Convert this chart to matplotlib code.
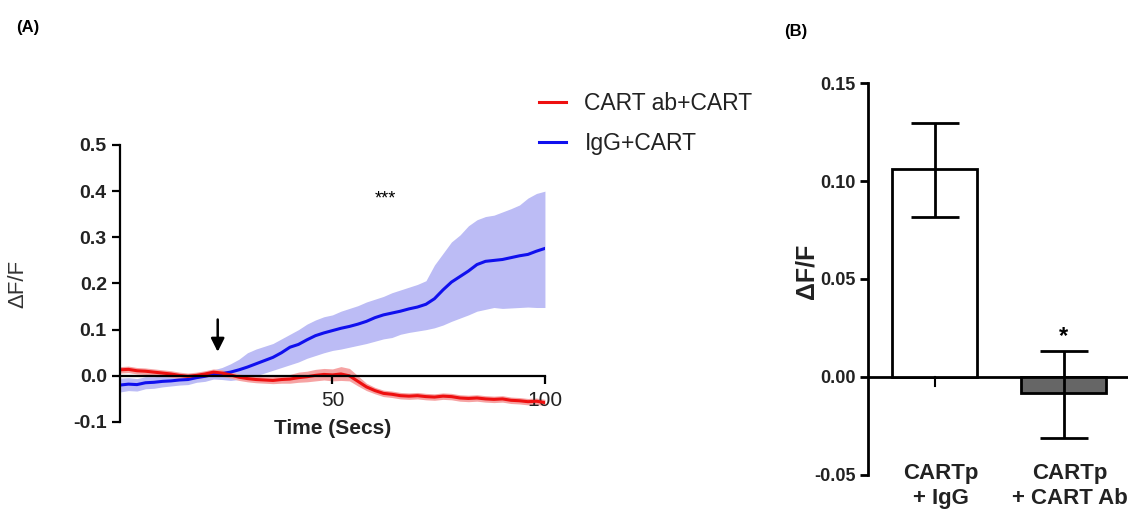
import matplotlib
matplotlib.use("Agg")
import matplotlib.pyplot as plt

plt.rcParams["font.family"] = ["Liberation Sans", "DejaVu Sans"]

# panel A: time course (mean and SEM band)
time_s = [0, 2, 4, 6, 8, 10, 12, 14, 16, 18, 20, 22, 24, 26, 28, 30, 32, 34, 36, 38,
          40, 42, 44, 46, 48, 50, 52, 54, 56, 58, 60, 62, 64, 66, 68, 70, 72, 74, 76, 78,
          80, 82, 84, 86, 88, 90, 92, 94, 96, 98, 100]

igg_mean = [-0.020, -0.018, -0.019, -0.015, -0.014, -0.012, -0.011, -0.009, -0.008, -0.004,
            -0.001, 0.003, 0.005, 0.008, 0.013, 0.019, 0.026, 0.033, 0.040, 0.050,
            0.062, 0.068, 0.078, 0.087, 0.093, 0.098, 0.103, 0.107, 0.112, 0.118,
            0.126, 0.132, 0.136, 0.140, 0.145, 0.149, 0.155, 0.167, 0.186, 0.203,
            0.215, 0.227, 0.241, 0.248, 0.250, 0.252, 0.256, 0.260, 0.263, 0.270, 0.276]
igg_upper = [-0.005, -0.004, -0.006, -0.002, -0.002, 0.000, 0.000, 0.002, 0.003, 0.006,
             0.010, 0.013, 0.018, 0.026, 0.036, 0.050, 0.058, 0.064, 0.070, 0.080,
             0.090, 0.100, 0.112, 0.121, 0.128, 0.132, 0.140, 0.146, 0.152, 0.160,
             0.166, 0.172, 0.180, 0.186, 0.192, 0.198, 0.206, 0.240, 0.265, 0.290,
             0.305, 0.325, 0.338, 0.345, 0.348, 0.355, 0.362, 0.370, 0.385, 0.395, 0.400]
igg_lower = [-0.035, -0.032, -0.033, -0.028, -0.027, -0.024, -0.022, -0.020, -0.019, -0.014,
             -0.012, -0.007, -0.008, -0.010, -0.008, -0.005, 0.000, 0.006, 0.012, 0.018,
             0.024, 0.030, 0.038, 0.044, 0.050, 0.055, 0.058, 0.062, 0.066, 0.070,
             0.075, 0.080, 0.083, 0.090, 0.094, 0.097, 0.100, 0.104, 0.110, 0.118,
             0.125, 0.132, 0.140, 0.144, 0.148, 0.146, 0.147, 0.148, 0.149, 0.148, 0.148]

ab_mean = [0.013, 0.014, 0.011, 0.010, 0.008, 0.006, 0.004, 0.001, -0.001, 0.001,
           0.004, 0.008, 0.006, 0.002, -0.003, -0.006, -0.008, -0.009, -0.010, -0.008,
           -0.007, -0.004, -0.002, 0.001, 0.003, 0.002, 0.004, 0.000, -0.012, -0.024,
           -0.032, -0.038, -0.040, -0.043, -0.044, -0.043, -0.045, -0.046, -0.044, -0.045,
           -0.048, -0.049, -0.048, -0.050, -0.051, -0.050, -0.053, -0.054, -0.056, -0.055, -0.058]
ab_upper = [0.020, 0.021, 0.018, 0.017, 0.015, 0.013, 0.011, 0.008, 0.006, 0.008,
            0.011, 0.015, 0.013, 0.009, 0.004, 0.001, -0.001, -0.002, -0.002, 0.000,
            0.003, 0.008, 0.010, 0.014, 0.016, 0.015, 0.020, 0.016, 0.000, -0.016,
            -0.025, -0.031, -0.033, -0.036, -0.037, -0.036, -0.038, -0.039, -0.037, -0.038,
            -0.041, -0.042, -0.041, -0.043, -0.044, -0.043, -0.046, -0.047, -0.049, -0.048, -0.051]
ab_lower = [0.006, 0.007, 0.004, 0.003, 0.001, -0.001, -0.003, -0.006, -0.008, -0.006,
            -0.003, 0.001, -0.001, -0.005, -0.010, -0.013, -0.015, -0.016, -0.017, -0.016,
            -0.016, -0.014, -0.013, -0.011, -0.009, -0.011, -0.010, -0.011, -0.022, -0.032,
            -0.039, -0.045, -0.047, -0.050, -0.051, -0.050, -0.052, -0.053, -0.051, -0.052,
            -0.055, -0.056, -0.055, -0.057, -0.058, -0.057, -0.060, -0.061, -0.063, -0.062, -0.065]

legend_labels = ["CART ab+CART", "IgG+CART"]
a_yticks = [-0.1, 0.0, 0.1, 0.2, 0.3, 0.4, 0.5]
a_xticks = [50, 100]
arrow_time = 23
stars_pos = (62.4, 0.383)

# panel B: bar summary
groups = ["CARTp\n+ IgG", "CARTp\n+ CART Ab"]
bar_values = [0.106, -0.0083]
err_upper = [0.1294, 0.0134]
err_lower = [0.0815, -0.0313]
bar_colors = ["white", "#666666"]
b_yticks = [-0.05, 0.00, 0.05, 0.10, 0.15]

fig = plt.figure(figsize=(11.36, 5.14), dpi=100)

# ---------- panel A ----------
ax = fig.add_axes([0.1056, 0.179, 0.3741, 0.5389])
ax.fill_between(time_s, igg_lower, igg_upper, color="#bcbcf5", lw=0)
ax.fill_between(time_s, ab_lower, ab_upper, color="#f6a3a3", lw=0)
ax.plot(time_s, igg_mean, color="#1010ee", lw=2.2, label=legend_labels[1])
ax.plot(time_s, ab_mean, color="#ee1010", lw=2.2, label=legend_labels[0])

ax.set_xlim(0, 100)
ax.set_ylim(-0.1, 0.5)
ax.spines["top"].set_visible(False)
ax.spines["right"].set_visible(False)
ax.spines["bottom"].set_position(("data", 0))
for s in ["left", "bottom"]:
    ax.spines[s].set_linewidth(1.6)
ax.set_yticks(a_yticks)
ax.set_yticklabels([f"{v:.1f}" for v in a_yticks], fontsize=14, fontweight="bold", color="#222222")
ax.set_xticks(a_xticks)
ax.set_xticklabels([str(v) for v in a_xticks], fontsize=15, color="#222222")
ax.tick_params(axis="both", length=6, width=1.6)
ax.tick_params(axis="x", pad=5)
ax.set_xlabel("Time (Secs)", fontsize=15, fontweight="bold", color="#222222")
ax.xaxis.set_label_coords(0.5, 0.01)
ax.set_ylabel("\u0394F/F", fontsize=16, color="#333333")
ax.yaxis.set_label_coords(-0.215, 0.5)

ax.annotate("", xy=(arrow_time, 0.046), xytext=(arrow_time, 0.128),
            arrowprops=dict(arrowstyle="-|>", color="black", lw=1.8, mutation_scale=20))
ax.text(stars_pos[0], stars_pos[1], "***", fontsize=13, ha="center", va="center")

handles, labels = ax.get_legend_handles_labels()
ax.legend(handles[::-1], labels[::-1], loc="center left", bbox_to_anchor=(0.456, 0.76),
          bbox_transform=fig.transFigure, frameon=False, fontsize=16.5,
          handlelength=1.2, handletextpad=0.8, labelspacing=0.75, labelcolor="#222222")

fig.text(0.014, 0.938, "(A)", fontsize=12, fontweight="bold")

# ---------- panel B ----------
bx = fig.add_axes([0.7641, 0.0759, 0.2289, 0.7626])
xpos = [0, 1]
yerr = [[v - lo for v, lo in zip(bar_values, err_lower)],
        [hi - v for v, hi in zip(bar_values, err_upper)]]
bx.bar(xpos, bar_values, width=0.66, color=bar_colors, edgecolor="black", linewidth=2, zorder=2)
bx.errorbar(xpos, bar_values, yerr=yerr, fmt="none", ecolor="black", elinewidth=2,
            capsize=17, capthick=2, zorder=3)
bx.axhline(0, color="black", lw=2, zorder=1)
bx.set_xlim(-0.515, 1.498)
bx.set_ylim(-0.05, 0.15)
bx.spines["top"].set_visible(False)
bx.spines["right"].set_visible(False)
bx.spines["bottom"].set_visible(False)
bx.spines["left"].set_linewidth(2)
bx.set_yticks(b_yticks)
bx.set_yticklabels([f"{v:.2f}" for v in b_yticks], fontsize=13, fontweight="bold", color="#222222")
bx.tick_params(axis="y", length=6, width=2, pad=3)
bx.set_xticks([])
bx.plot([0, 0], [0, -0.0045], color="black", lw=1.5)
for x, g in zip(xpos, groups):
    bx.text(x + 0.05, -0.0275, g, transform=bx.get_xaxis_transform(), ha="center", va="center",
            fontsize=16, fontweight="bold", color="#222222", linespacing=1.25)
bx.text(1, 0.0205, "*", fontsize=17, ha="center", va="center", fontweight="bold")
bx.set_ylabel("\u0394F/F", fontsize=18, fontweight="bold", color="#222222")
bx.yaxis.set_label_coords(-0.19, 0.52)

fig.text(0.69, 0.93, "(B)", fontsize=12, fontweight="bold")

fig.savefig("out.png", dpi=100)
